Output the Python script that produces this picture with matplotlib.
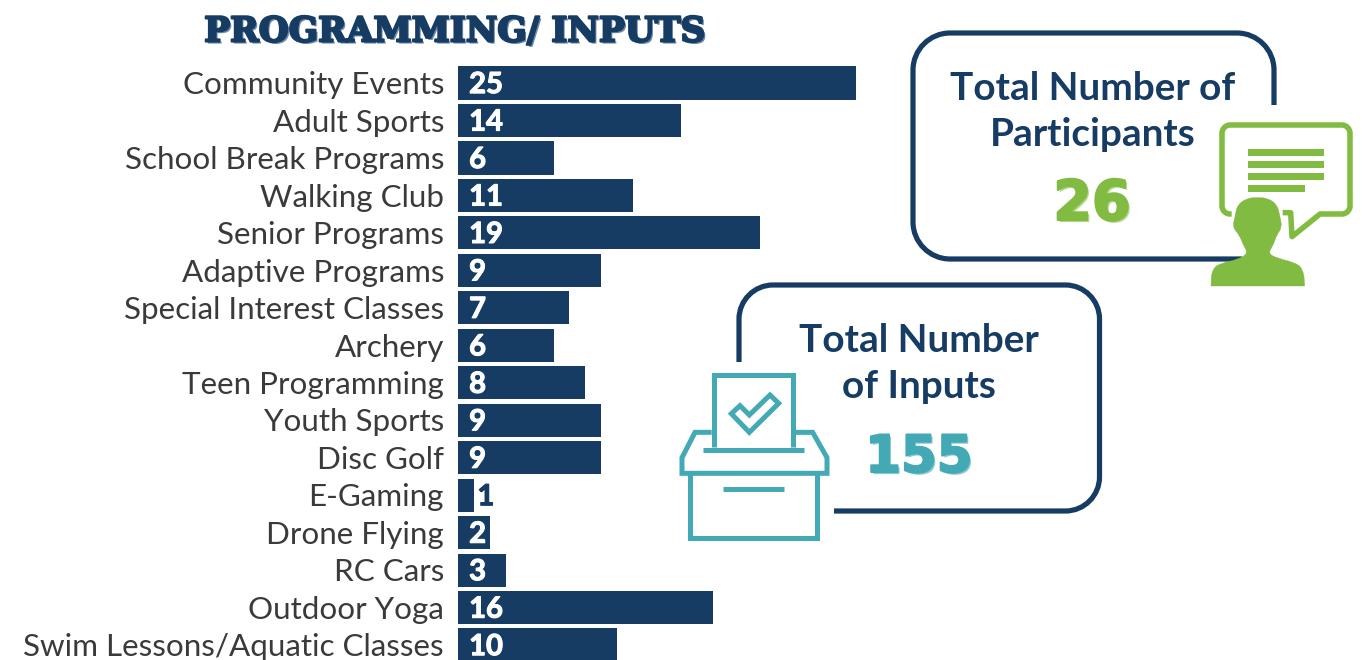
import matplotlib
matplotlib.use("Agg")
import matplotlib.pyplot as plt
import matplotlib.patheffects as pe
from matplotlib.path import Path
from matplotlib.patches import PathPatch, Polygon, Rectangle
from matplotlib.transforms import ScaledTranslation

categories = ["Community Events", "Adult Sports", "School Break Programs", "Walking Club",
              "Senior Programs", "Adaptive Programs", "Special Interest Classes", "Archery",
              "Teen Programming", "Youth Sports", "Disc Golf", "E-Gaming", "Drone Flying",
              "RC Cars", "Outdoor Yoga", "Swim Lessons/Aquatic Classes"]
values = [25, 14, 6, 11, 19, 9, 7, 6, 8, 9, 9, 1, 2, 3, 16, 10]
title = "PROGRAMMING/ INPUTS"
participants = 26
inputs = 155

NAVY = "#163C63"
GREEN = "#82BB41"
TEAL = "#42A9B5"
TEXT = "#3A3A3A"
W, H = 1362, 660
plt.rcParams["font.family"] = ["Lato", "DejaVu Sans"]

fig = plt.figure(figsize=(W / 100, H / 100), dpi=100, facecolor="white")

# bar chart
ax = fig.add_axes([458 / W, 0, (W - 458) / W, 1], facecolor="none")
ax.barh(range(len(values)), values, height=0.885, color=NAVY)
ax.set_xlim(0, (W - 458) / 15.92)
ax.set_ylim((660 - 83) / 37.47, -83 / 37.47)
ax.set_yticks(range(len(categories)), categories, fontsize=22.6, color=TEXT)
ax.tick_params(axis="y", length=0, pad=10)
ax.xaxis.set_visible(False)
shift = ScaledTranslation(0, 0.2 / 72, fig.dpi_scale_trans)
for lab in ax.get_yticklabels():
    lab.set_transform(lab.get_transform() + shift)
for s in ax.spines.values():
    s.set_visible(False)
heavy = lambda c: [pe.withStroke(linewidth=0.8, foreground=c)]
for i, v in enumerate(values):
    if v == 1:
        ax.annotate(str(v), (v, i), xytext=(2.5, -1.5), textcoords="offset points", va="center",
                    ha="left", fontsize=21, fontweight="bold", color=NAVY, path_effects=heavy(NAVY))
    else:
        ax.annotate(str(v), (0, i), xytext=(8, -1.5), textcoords="offset points", va="center",
                    ha="left", fontsize=21, fontweight="bold", color="white", path_effects=heavy("white"))

# overlay in pixel coordinates
ov = fig.add_axes([0, 0, 1, 1], facecolor="none")
ov.set_xlim(0, W)
ov.set_ylim(H, 0)
ov.axis("off")

M, L, C, Q = Path.MOVETO, Path.LINETO, Path.CURVE4, Path.CURVE3


def add_path(verts, codes, **kw):
    ov.add_patch(PathPatch(Path(verts, codes), fill=False, **kw))


def frame(points, lw=5.2, color=NAVY):
    verts, codes = [], []
    for kind, pts in points:
        verts += pts
        codes += [kind] * len(pts)
    add_path(verts, codes, lw=lw * 0.72, edgecolor=color, capstyle="butt", joinstyle="round")


def corner(x0, y0, cx, cy, x1, y1):
    k = 0.55
    return (C, [(x0 + (cx - x0) * k, y0 + (cy - y0) * k), (x1 + (cx - x1) * k, y1 + (cy - y1) * k), (x1, y1)])


l, t, r, b, rad = 913, 33, 1274, 259, 37
frame([(M, [(r, 105)]), (L, [(r, t + rad)]), corner(r, t + rad, r, t, r - rad, t),
       (L, [(l + rad, t)]), corner(l + rad, t, l, t, l, t + rad),
       (L, [(l, b - rad)]), corner(l, b - rad, l, b, l + rad, b),
       (L, [(1242, b)])])

l, t, r, b, rad = 739, 285, 1099.5, 511, 34
frame([(M, [(l, 362)]), (L, [(l, t + rad)]), corner(l, t + rad, l, t, l + rad, t),
       (L, [(r - rad, t)]), corner(r - rad, t, r, t, r, t + rad),
       (L, [(r, b - rad)]), corner(r, b - rad, r, b, r - rad, b),
       (L, [(834, b)])])

bold = dict(fontweight="bold", color=NAVY, ha="center", va="center", fontsize=27.9)
ov.text(1093, 89, "Total Number of", **bold)
ov.text(1093, 134, "Participants", **bold)
ov.text(919, 341, "Total Number", **bold)
ov.text(919, 386, "of Inputs", **bold)

ov.text(455.5, 32, title, family="DejaVu Serif", fontweight="bold", fontsize=24.8, color=NAVY,
        ha="center", va="center",
        path_effects=[pe.withSimplePatchShadow(offset=(1.5, -1.5), shadow_rgbFace="#6F8BA8", alpha=1),
                      pe.withStroke(linewidth=1.6, foreground=NAVY)])


def big(x, y, s, color, size):
    ov.text(x, y, s, family="DejaVu Sans", fontweight="bold", fontsize=size, color=color,
            ha="center", va="center",
            path_effects=[pe.withStroke(linewidth=1.5, foreground=color),
                          pe.withSimplePatchShadow(offset=(1.5, -1.5), shadow_rgbFace=color, alpha=0.6)])


big(1092, 205, str(participants), GREEN, 40)
big(919, 458, str(inputs), TEAL, 37)


# icon geometry measured in 3x crops
def zg(p):
    return (900 + p[0] / 3, 20 + p[1] / 3)


def zt(p):
    return (670 + p[0] / 3, 275 + p[1] / 3)


bub = [(M, [zg((995, 582))]), (L, [zg((990, 582))]), corner(*zg((990, 582)), *zg((966, 582)), *zg((966, 558))),
       (L, [zg((966, 340))]), corner(*zg((966, 340)), *zg((966, 315)), *zg((990, 315))),
       (L, [zg((1326, 315))]), corner(*zg((1326, 315)), *zg((1350, 315)), *zg((1350, 340))),
       (L, [zg((1350, 558))]), corner(*zg((1350, 558)), *zg((1350, 582)), *zg((1326, 582))),
       (L, [zg((1260, 582))]), (L, [zg((1176, 650))]), (L, [zg((1172, 578))]), (L, [zg((1148, 578))])]
frame(bub, lw=5.5, color=GREEN)
for y0, x1 in [(387, 1272), (423, 1272), (459, 1272), (495, 1215)]:
    x, y = zg((1044, y0))
    ov.add_patch(Rectangle((x, y), (x1 - 1044) / 3, 7, color=GREEN, lw=0))

# person: smooth outline through quadratic segments, flat base
ctrl = [(1208, 745), (1185, 728), (1130, 714), (1104, 700), (1120, 675), (1130, 645), (1146, 622), (1140, 590),
        (1132, 555), (1105, 535), (1072, 532), (1040, 535), (1012, 555), (1005, 590), (998, 622),
        (1018, 645), (1030, 675), (1044, 700), (1015, 718), (962, 730), (938, 745)]
verts = [zg((933, 798)), zg((1214, 798)), zg((1212, 770))]
codes = [M, L, L]
pts = [zg(p) for p in ctrl]
for i, p in enumerate(pts):
    nxt = pts[i + 1] if i + 1 < len(pts) else zg((934, 770))
    verts += [p, ((p[0] + nxt[0]) / 2, (p[1] + nxt[1]) / 2) if i + 1 < len(pts) else nxt]
    codes += [Q, Q]
verts.append(zg((933, 798)))
codes.append(Path.CLOSEPOLY)
ov.add_patch(PathPatch(Path(verts, codes), fc=GREEN, ec=GREEN, lw=0.3))

# ballot icon
T = dict(lw=5 * 0.72, edgecolor=TEAL, fill=False, joinstyle="miter", capstyle="butt")
ov.add_patch(Polygon([zt(p) for p in [(133, 516), (133, 300), (369, 300), (369, 516)]], closed=False, **T))
ov.add_patch(Polygon([zt(p) for p in [(100, 524), (402, 524)]], closed=False, **T))
ov.add_patch(Polygon([zt(p) for p in [(125, 472), (75, 472), (36, 548), (36, 595), (471, 595), (471, 548),
                                      (428, 472), (377, 472)]], closed=False, **T))
ov.add_patch(Polygon([zt(p) for p in [(59, 595), (59, 790), (442, 790), (442, 595)]], closed=False, **T))
ov.add_patch(Polygon([zt(p) for p in [(160, 643), (342, 643)]], closed=False, **T))
ov.add_patch(Polygon([zt(p) for p in [(238, 472), (184, 416), (210, 392), (238, 420), (300, 360), (326, 385)]],
                     closed=True, **T))

fig.savefig("out.png", dpi=100, facecolor="white")
